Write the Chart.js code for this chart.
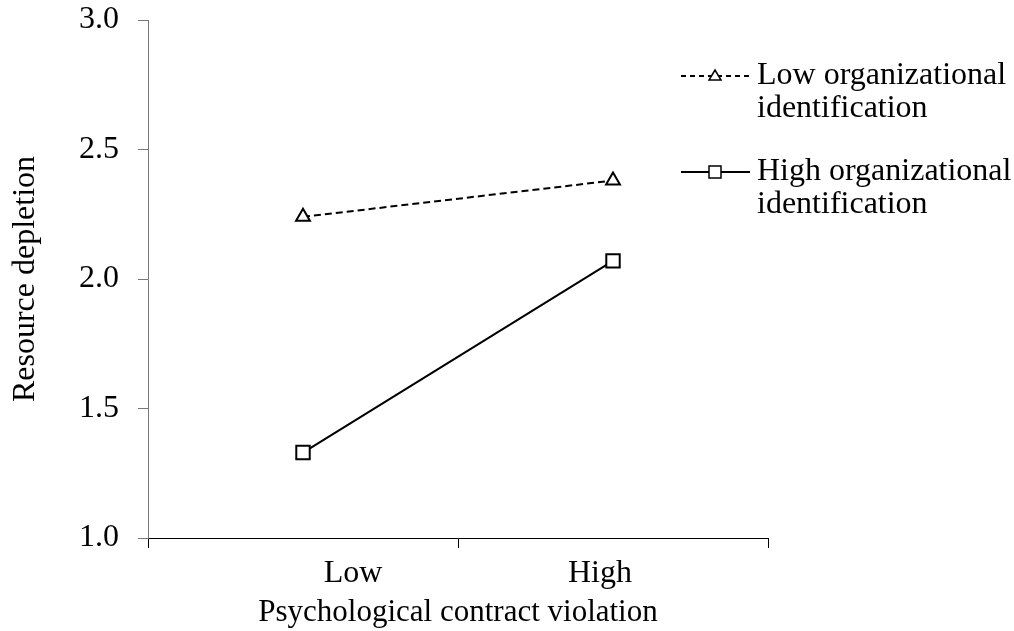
<!DOCTYPE html>
<html lang="en">
<head>
<meta charset="UTF-8">
<title>Resource depletion</title>
<script src="https://cdn.jsdelivr.net/npm/chart.js"></script>
<style>
  html, body { margin: 0; padding: 0; background: #fff; }
  #wrap { width: 1014px; height: 631px; }
</style>
</head>
<body>
<div id="wrap"><canvas id="chart"></canvas></div>
<script>
// data
const categories = ["Low", "High"];
const lowIdValues = [2.24, 2.38];
const highIdValues = [1.33, 2.07];
const seriesLabels = [["Low organizational", "identification"], ["High organizational", "identification"]];
const yTicks = [1.0, 1.5, 2.0, 2.5, 3.0];

const FONT = "'Liberation Serif', 'Times New Roman', serif";

// category labels sit a bit off the category centres in the original
const catLabels = {
  id: "catLabels",
  afterDraw(chart) {
    const ctx = chart.ctx;
    const x = chart.scales.x;
    const shift = [50, -13];
    ctx.save();
    ctx.fillStyle = "#000";
    ctx.font = "32px " + FONT;
    ctx.textAlign = "center";
    ctx.textBaseline = "middle";
    chart.data.labels.forEach((lab, i) => {
      ctx.fillText(lab, x.getPixelForValue(i) + shift[i], x.top + 36);
    });
    ctx.restore();
  }
};

// legend with line + marker and two-line text, drawn at the right
const sideLegend = {
  id: "sideLegend",
  afterDraw(chart) {
    const ctx = chart.ctx;
    const rows = [76, 172];
    ctx.save();
    chart.data.datasets.forEach((ds, i) => {
      const y = rows[i];
      ctx.strokeStyle = "#000";
      ctx.lineWidth = 2;
      ctx.setLineDash(ds.borderDash ? [5, 4] : []);
      ctx.beginPath();
      ctx.moveTo(681, y);
      ctx.lineTo(750, y);
      ctx.stroke();
      ctx.setLineDash([]);
      ctx.lineWidth = 1.5;
      ctx.fillStyle = "#fff";
      if (ds.pointStyle === "triangle") {
        ctx.beginPath();
        ctx.moveTo(715, y - 6);
        ctx.lineTo(721, y + 4);
        ctx.lineTo(709, y + 4);
        ctx.closePath();
        ctx.fill();
        ctx.stroke();
      } else {
        ctx.fillRect(709, y - 6, 12, 12);
        ctx.strokeRect(709, y - 6, 12, 12);
      }
      ctx.fillStyle = "#000";
      ctx.font = "32px " + FONT;
      ctx.textBaseline = "middle";
      ctx.textAlign = "left";
      ds.label.forEach((t, k) => ctx.fillText(t, 757, y + k * 33));
    });
    ctx.restore();
  }
};

new Chart(document.getElementById("chart"), {
  type: "line",
  data: {
    labels: categories,
    datasets: [
      {
        label: seriesLabels[0],
        data: lowIdValues,
        borderColor: "#000",
        borderWidth: 2,
        borderDash: [7, 4],
        pointStyle: "triangle",
        pointRadius: 8,
        pointBorderWidth: 2,
        pointBackgroundColor: "#fff",
        pointBorderColor: "#000",
        tension: 0
      },
      {
        label: seriesLabels[1],
        data: highIdValues,
        borderColor: "#000",
        borderWidth: 2,
        pointStyle: "rect",
        pointRadius: 9.5,
        pointBorderWidth: 2,
        pointBackgroundColor: "#fff",
        pointBorderColor: "#000",
        tension: 0
      }
    ]
  },
  options: {
    responsive: true,
    maintainAspectRatio: false,
    animation: false,
    layout: { padding: { top: 20, right: 246, left: 0, bottom: 0 } },
    plugins: { legend: { display: false }, tooltip: { enabled: false } },
    scales: {
      x: {
        offset: true,
        grid: { offset: true, drawOnChartArea: false, drawTicks: true, tickLength: 10, color: "#000" },
        border: { color: "#000", width: 1 },
        ticks: { display: false },
        title: { display: true, text: "Psychological contract violation", color: "#000", font: { family: FONT, size: 31 }, padding: 0 },
        afterFit(scale) { scale.height = 93; }
      },
      y: {
        min: 1.0,
        max: 3.0,
        afterBuildTicks(scale) { scale.ticks = yTicks.map(v => ({ value: v })); },
        grid: { drawOnChartArea: false, drawTicks: true, tickLength: 10, color: "#777" },
        border: { color: "#777", width: 1 },
        ticks: { color: "#000", font: { family: FONT, size: 32 }, padding: 19, callback: v => v.toFixed(1) },
        title: { display: true, text: "Resource depletion", color: "#000", font: { family: FONT, size: 32 }, padding: { top: 6, bottom: 0 } },
        afterFit(scale) {
          scale.width = 148;
          scale.paddingTop = 0;
          scale.paddingBottom = 0;
        }
      }
    }
  },
  plugins: [sideLegend, catLabels]
});
</script>
</body>
</html>
